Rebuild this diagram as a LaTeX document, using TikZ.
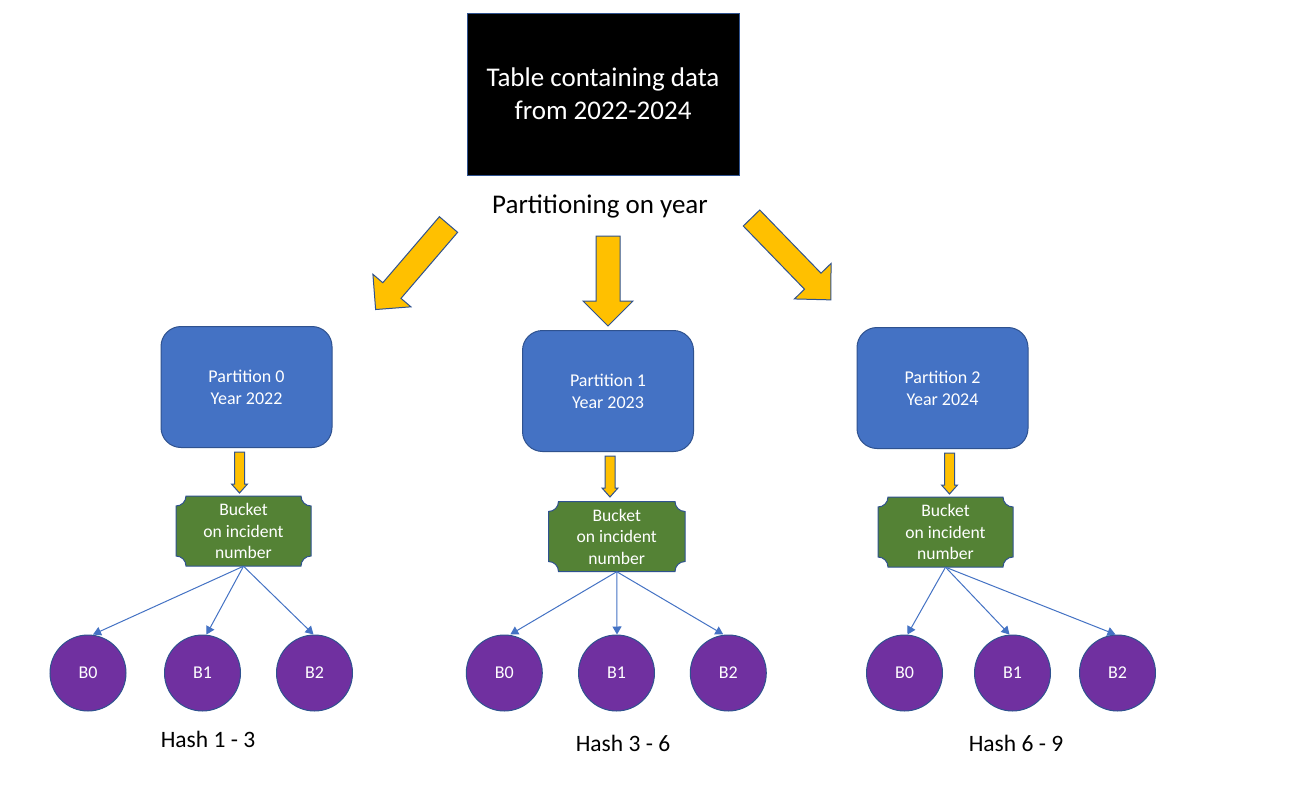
\documentclass[tikz,border=0pt]{standalone}
\usepackage{fontspec}
\setmainfont{Carlito}
\usetikzlibrary{arrows.meta}
\definecolor{edge}{HTML}{2F528F}
\definecolor{accblue}{HTML}{4472C4}
\definecolor{accgreen}{HTML}{548235}
\definecolor{accpurple}{HTML}{7030A0}
\definecolor{accyellow}{HTML}{FFC000}
\tikzset{
  bigarrow/.style={fill=accyellow,draw=edge,line width=1pt,line join=miter},
  tablebox/.style={fill=black,draw=edge,line width=1pt,minimum width=272,minimum height=162,text=white,align=center,font=\fontsize{27}{33}\selectfont},
  partbox/.style={fill=accblue,draw=edge,line width=1pt,rounded corners=20,minimum width=171,minimum height=121,text=white,align=center,font=\fontsize{18}{22}\selectfont},
  bucketbox/.style={minimum width=136,minimum height=70,inner sep=0,text=white,align=center,font=\fontsize{17.6}{21.5}\selectfont},
  plaque/.style={fill=accgreen,draw=edge,line width=1pt},
  bcircle/.style={circle,fill=accpurple,draw=edge,line width=1pt,minimum size=76,inner sep=0,text=white,font=\fontsize{18}{20}\selectfont},
  conn/.style={draw=accblue,line width=1pt,-{Triangle[length=8,width=9]}},
  plain/.style={font=\fontsize{27}{30}\selectfont},
  hashlbl/.style={font=\fontsize{23.5}{26}\selectfont}
}
% tail x, tail y, angle, length, shaft width, head width, head length
\newcommand{\blockarrow}[7]{%
  \begin{scope}[shift={(#1,#2)},rotate=#3]
    \filldraw[bigarrow] (0,{-#5/2}) -- ({#4-#7},{-#5/2}) -- ({#4-#7},{-#6/2}) -- (#4,0)
      -- ({#4-#7},{#6/2}) -- ({#4-#7},{#5/2}) -- (0,{#5/2}) -- cycle;
  \end{scope}}
% plaque: x1 y1 x2 y2 r (y downward)
\newcommand{\plaqueshape}[5]{%
  \filldraw[plaque] ({#1+#5},#2) -- ({#3-#5},#2)
   .. controls ({#3-#5},{#2+0.552*#5}) and ({#3-0.552*#5},{#2+#5}) .. (#3,{#2+#5})
   -- (#3,{#4-#5})
   .. controls ({#3-0.552*#5},{#4-#5}) and ({#3-#5},{#4-0.552*#5}) .. ({#3-#5},#4)
   -- ({#1+#5},#4)
   .. controls ({#1+#5},{#4-0.552*#5}) and ({#1+0.552*#5},{#4-#5}) .. (#1,{#4-#5})
   -- (#1,{#2+#5})
   .. controls ({#1+0.552*#5},{#2+#5}) and ({#1+#5},{#2+0.552*#5}) .. ({#1+#5},#2) -- cycle;}
\begin{document}
\begin{tikzpicture}[x=1pt,y=-1pt]
\useasboundingbox[fill=white] (0,0) rectangle (1294,795);

\node[tablebox] (table) at (603,94) {Table containing data\\from 2022-2024};
\node[plain] (ptitle) at (600,206) {Partitioning on year};

\blockarrow{448.5}{224.5}{229.4}{112}{24}{50}{25}
\blockarrow{608}{236}{270}{90}{24}{50}{25}
\blockarrow{751.5}{218}{-45.9}{114}{23}{51}{26}

\node[partbox] (p0) at (246.5,387) {Partition 0\\Year 2022};
\node[partbox] (p1) at (608,391) {Partition 1\\Year 2023};
\node[partbox] (p2) at (942.5,388) {Partition 2\\Year 2024};

\blockarrow{239.5}{452}{270}{41}{10}{16}{9}
\blockarrow{610}{456}{270}{41}{10}{16}{9}
\blockarrow{949.5}{453}{270}{41}{10}{16}{9}

\plaqueshape{176}{496}{311}{566}{10}
\plaqueshape{548.5}{501.5}{685}{571.5}{10}
\plaqueshape{878}{497}{1013}{567}{10}
\node[bucketbox] (k0) at (243.5,531) {Bucket\\on incident\\number};
\node[bucketbox] (k1) at (616.75,536.5) {Bucket\\on incident\\number};
\node[bucketbox] (k2) at (945.5,532) {Bucket\\on incident\\number};

\node[bcircle] (a0) at (88,673) {B0};
\node[bcircle] (a1) at (202.5,673) {B1};
\node[bcircle] (a2) at (314.5,673) {B2};
\node[bcircle] (b0) at (504.3,673) {B0};
\node[bcircle] (b1) at (616.5,673) {B1};
\node[bcircle] (b2) at (728.3,673) {B2};
\node[bcircle] (c0) at (904.5,673) {B0};
\node[bcircle] (c1) at (1012.5,673) {B1};
\node[bcircle] (c2) at (1117.5,673) {B2};

\draw[conn] (k0.south) -- ([xshift=5]a0.north);
\draw[conn] (k0.south) -- ([xshift=4]a1.north);
\draw[conn] (k0.south) -- ([xshift=-1]a2.north);
\draw[conn] (k1.south) -- ([xshift=6]b0.north);
\draw[conn] (k1.south) -- ([xshift=0.5]b1.north);
\draw[conn] (k1.south) -- ([xshift=-5]b2.north);
\draw[conn] (k2.south) -- ([xshift=3]c0.north);
\draw[conn] (k2.south) -- ([xshift=-3]c1.north);
\draw[conn] (k2.south) -- ([xshift=-2]c2.north);

\node[hashlbl] (h0) at (208,739) {Hash 1 - 3};
\node[hashlbl] (h1) at (623,743) {Hash 3 - 6};
\node[hashlbl] (h2) at (1016,743) {Hash 6 - 9};
\end{tikzpicture}
\end{document}
